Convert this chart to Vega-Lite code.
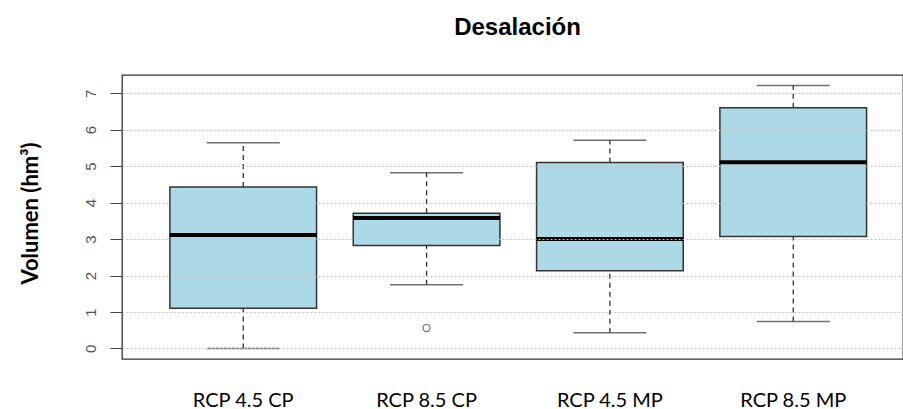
{
  "$schema": "https://vega.github.io/schema/vega-lite/v6.json",
  "width": 781,
  "height": 284,
  "autosize": {"type": "none"},
  "padding": {"left": 122, "top": 75, "right": 0, "bottom": 50},
  "background": "white",
  "title": {"text": "Desalación", "font": "Liberation Sans", "fontSize": 24, "fontWeight": "bold", "color": "#000000", "anchor": "middle", "frame": "group", "baseline": "alphabetic", "offset": 16, "dx": 5},
  "datasets": {
    "cajas": [
      {"grupo": "RCP 4.5 CP", "minimo": 0.0, "q1": 1.10, "mediana": 3.11, "q3": 4.43, "maximo": 5.64},
      {"grupo": "RCP 8.5 CP", "minimo": 1.75, "q1": 2.82, "mediana": 3.58, "q3": 3.71, "maximo": 4.82},
      {"grupo": "RCP 4.5 MP", "minimo": 0.43, "q1": 2.13, "mediana": 3.00, "q3": 5.10, "maximo": 5.71},
      {"grupo": "RCP 8.5 MP", "minimo": 0.74, "q1": 3.07, "mediana": 5.11, "q3": 6.60, "maximo": 7.21}
    ],
    "atipicos": [
      {"grupo": "RCP 8.5 CP", "valor": 0.56}
    ]
  },
  "data": {"name": "cajas"},
  "encoding": {
    "x": {
      "field": "grupo", "type": "nominal",
      "sort": ["RCP 4.5 CP", "RCP 8.5 CP", "RCP 4.5 MP", "RCP 8.5 MP"],
      "scale": {"paddingInner": 0.2, "paddingOuter": 0.23, "align": 0.568},
      "axis": {"title": null, "ticks": false, "domain": false, "grid": false, "labelAngle": 0, "labelFont": "Lato", "labelFontSize": 20, "labelColor": "#000000", "labelPadding": 47, "labelBaseline": "alphabetic"}
    }
  },
  "layer": [
    {
      "mark": {"type": "rule", "strokeDash": [5, 4], "color": "#222222", "strokeWidth": 1.2},
      "encoding": {
        "y": {"field": "minimo", "type": "quantitative", "title": "Volumen (hm³)", "scale": {"domain": [-0.29, 7.5], "nice": false, "zero": false},
          "axis": {"values": [0, 1, 2, 3, 4, 5, 6, 7], "title": "Volumen (hm³)", "grid": true, "gridColor": "#c0c0c0", "gridDash": [2, 2], "gridWidth": 1, "domain": false, "ticks": true, "tickSize": 12, "tickColor": "#444444", "tickWidth": 1, "labelAngle": -90, "labelAlign": "center", "labelBaseline": "alphabetic", "labelPadding": 15, "labelFont": "Liberation Sans", "labelFontSize": 15, "labelColor": "#555555", "titleFont": "Lato", "titleFontSize": 22, "titleFontWeight": "bold", "titleColor": "#000000", "titleAngle": -90, "titleX": -92, "titleY": 138, "titleBaseline": "middle", "titleAlign": "center", "zindex": 1}},
        "y2": {"field": "q1"}
      }
    },
    {
      "mark": {"type": "rule", "strokeDash": [5, 4], "color": "#222222", "strokeWidth": 1.2},
      "encoding": {
        "y": {"field": "q3", "type": "quantitative", "title": "Volumen (hm³)"},
        "y2": {"field": "maximo"}
      }
    },
    {
      "mark": {"type": "tick", "size": 73, "thickness": 1.5, "color": "#333333"},
      "encoding": {"y": {"field": "minimo", "type": "quantitative", "title": "Volumen (hm³)"}}
    },
    {
      "mark": {"type": "tick", "size": 73, "thickness": 1.5, "color": "#333333"},
      "encoding": {"y": {"field": "maximo", "type": "quantitative", "title": "Volumen (hm³)"}}
    },
    {
      "mark": {"type": "bar", "fill": "#ADD8E6", "stroke": "#333333", "strokeWidth": 1.5},
      "encoding": {
        "y": {"field": "q1", "type": "quantitative", "title": "Volumen (hm³)"},
        "y2": {"field": "q3"}
      }
    },
    {
      "mark": {"type": "tick", "size": 147, "thickness": 4, "color": "#000000", "fill": "#000000", "opacity": 1},
      "encoding": {"y": {"field": "mediana", "type": "quantitative", "title": "Volumen (hm³)"}}
    },
    {
      "data": {"name": "atipicos"},
      "mark": {"type": "point", "shape": "circle", "filled": false, "size": 50, "stroke": "#333333", "strokeWidth": 1.2},
      "encoding": {"y": {"field": "valor", "type": "quantitative", "title": "Volumen (hm³)"}}
    }
  ],
  "config": {"view": {"stroke": "#333333", "strokeWidth": 1.3}}
}
